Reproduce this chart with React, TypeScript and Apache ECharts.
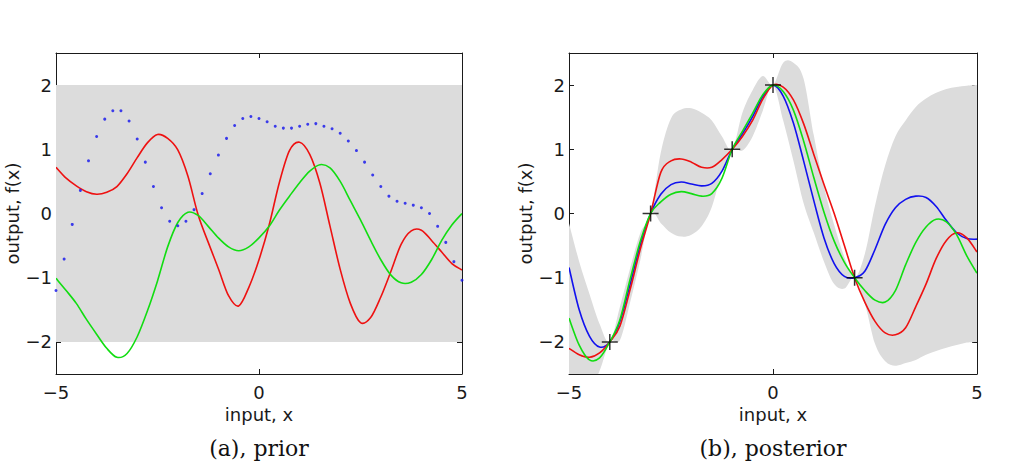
import { useEffect, useRef } from 'react';
import * as echarts from 'echarts';

// Input grid shared by the smooth sample curves
const sampleX = [
  -5, -4.75, -4.5, -4.25, -4, -3.75, -3.5, -3.25, -3, -2.75, -2.5, -2.25, -2, -1.75, -1.5, -1.25,
  -1, -0.75, -0.5, -0.25, 0, 0.25, 0.5, 0.75, 1, 1.25, 1.5, 1.75, 2, 2.25, 2.5, 2.75, 3, 3.25,
  3.5, 3.75, 4, 4.25, 4.5, 4.75, 5,
];

// (a) prior: two solid samples and one dotted sample, plus the ±2 band
const priorRed = [
  0.72, 0.55, 0.43, 0.34, 0.3, 0.33, 0.42, 0.62, 0.87, 1.1, 1.23, 1.17, 0.99, 0.58, -0.02, -0.45,
  -0.86, -1.28, -1.44, -1.15, -0.72, -0.18, 0.48, 0.98, 1.11, 0.92, 0.47, -0.2, -0.87, -1.4, -1.7,
  -1.62, -1.3, -0.9, -0.48, -0.27, -0.26, -0.42, -0.6, -0.78, -0.88,
];
const priorGreen = [
  -1.01, -1.2, -1.4, -1.65, -1.88, -2.1, -2.24, -2.18, -1.92, -1.52, -1.05, -0.52, -0.14, 0.02,
  -0.03, -0.2, -0.38, -0.52, -0.58, -0.52, -0.38, -0.2, 0.05, 0.27, 0.48, 0.66, 0.76, 0.71, 0.5,
  0.2, -0.1, -0.42, -0.72, -0.96, -1.08, -1.07, -0.95, -0.72, -0.42, -0.18, 0.0,
];
const dotX = [
  -5, -4.8, -4.6, -4.4, -4.2, -4, -3.8, -3.6, -3.4, -3.2, -3, -2.8, -2.6, -2.4, -2.2, -2, -1.8,
  -1.6, -1.4, -1.2, -1, -0.8, -0.6, -0.4, -0.2, 0, 0.2, 0.4, 0.6, 0.8, 1, 1.2, 1.4, 1.6, 1.8, 2,
  2.2, 2.4, 2.6, 2.8, 3, 3.2, 3.4, 3.6, 3.8, 4, 4.2, 4.4, 4.6, 4.8, 5,
];
const priorBlueDots = [
  -1.2, -0.71, -0.17, 0.36, 0.82, 1.2, 1.47, 1.6, 1.6, 1.44, 1.16, 0.8, 0.42, 0.09, -0.12, -0.19,
  -0.12, 0.06, 0.31, 0.62, 0.91, 1.17, 1.37, 1.48, 1.51, 1.48, 1.43, 1.36, 1.33, 1.33, 1.36, 1.39,
  1.4, 1.36, 1.32, 1.25, 1.13, 0.98, 0.8, 0.6, 0.42, 0.27, 0.19, 0.16, 0.13, 0.09, 0.0, -0.2,
  -0.45, -0.75, -1.04,
];
const priorBand = [-2, 2];

// (b) posterior: three samples, the ±2σ band and the training points
const postBlue = [
  -0.84, -1.5, -1.91, -2.08, -2.0, -1.68, -1.1, -0.48, 0.0, 0.3, 0.45, 0.49, 0.46, 0.43, 0.47,
  0.66, 1.0, 1.24, 1.51, 1.82, 2.0, 1.83, 1.41, 0.82, 0.2, -0.38, -0.78, -0.98, -1.0, -0.9, -0.56,
  -0.17, 0.09, 0.22, 0.27, 0.25, 0.11, -0.11, -0.3, -0.39, -0.4,
];
const postRed = [
  -2.1, -2.2, -2.24, -2.17, -2.0, -1.75, -1.18, -0.55, 0.0, 0.64, 0.82, 0.85, 0.8, 0.72, 0.72,
  0.84, 1.0, 1.2, 1.45, 1.78, 2.0, 1.97, 1.77, 1.4, 0.92, 0.45, 0.0, -0.5, -1.0, -1.38, -1.68,
  -1.86, -1.89, -1.78, -1.45, -1.1, -0.7, -0.42, -0.3, -0.38, -0.6,
];
const postGreen = [
  -1.63, -2.05, -2.28, -2.25, -2.0, -1.65, -1.02, -0.43, 0.0, 0.18, 0.3, 0.34, 0.31, 0.27, 0.31,
  0.55, 1.0, 1.28, 1.56, 1.85, 2.0, 1.9, 1.61, 1.13, 0.56, 0.02, -0.43, -0.76, -1.0, -1.2, -1.35,
  -1.38, -1.2, -0.8, -0.45, -0.21, -0.09, -0.13, -0.33, -0.66, -0.93,
];
const postUpper = [
  -0.15, -0.75, -1.25, -1.72, -2.0, -1.45, -0.85, -0.3, 0.0, 0.95, 1.48, 1.62, 1.64, 1.57, 1.45,
  1.2, 1.0, 1.57, 1.92, 2.14, 2.0, 2.35, 2.35, 2.1, 1.22, 0.42, -0.18, -0.68, -1.0, -0.63, 0.12,
  0.75, 1.2, 1.45, 1.66, 1.79, 1.88, 1.94, 1.97, 1.99, 2.0,
];
const postLower = [
  -3.1, -2.95, -2.75, -2.45, -2.0, -1.97, -1.38, -0.72, 0.0, -0.15, -0.3, -0.36, -0.33, -0.2, 0.1,
  0.65, 1.0, 0.98, 1.2, 1.6, 2.0, 1.45, 0.82, 0.16, -0.3, -0.75, -1.1, -1.17, -1.0, -1.4, -2.03,
  -2.3, -2.37, -2.33, -2.28, -2.2, -2.14, -2.09, -2.05, -2.01, -2.0,
];
const trainX = [-4, -3, -1, 0, 2];
const trainY = [-2, 0, 1, 2, -1];

const captions = ['(a), prior', '(b), posterior'];

const RED = '#ee1111';
const GREEN = '#11dd11';
const BLUE = '#1111ee';
const GRAY = '#dcdcdc';
const INK = '#1a1a1a';
const FONT = 'DejaVu Sans';

const PLUS = 'path://M7.25,0 H8.75 V7.25 H16 V8.75 H8.75 V16 H7.25 V8.75 H0 V7.25 H7.25 Z';

const pairs = (xs: number[], ys: number[]) => xs.map((x, i) => [x, ys[i]]);

// Catmull-Rom spline through screen points, emitted as cubic Bézier segments
function splinePath(pts: number[][], moveFirst: boolean) {
  let d = `${moveFirst ? 'M' : 'L'}${pts[0][0]},${pts[0][1]}`;
  for (let i = 0; i < pts.length - 1; i++) {
    const p0 = pts[i - 1] || pts[i];
    const p1 = pts[i];
    const p2 = pts[i + 1];
    const p3 = pts[i + 2] || p2;
    const c1x = p1[0] + (p2[0] - p0[0]) / 6;
    const c1y = p1[1] + (p2[1] - p0[1]) / 6;
    const c2x = p2[0] - (p3[0] - p1[0]) / 6;
    const c2y = p2[1] - (p3[1] - p1[1]) / 6;
    d += ` C${c1x},${c1y} ${c2x},${c2y} ${p2[0]},${p2[1]}`;
  }
  return d;
}

const gridClip = (cs: any) => ({
  type: 'rect',
  shape: { x: cs.x, y: cs.y, width: cs.width, height: cs.height },
});

export default function App() {
  const ref = useRef<HTMLDivElement>(null);

  useEffect(() => {
    const chart = echarts.init(ref.current!, null, { renderer: 'svg' });

    const tickFmt = (v: number) => (Number.isInteger(v) ? String(v).replace('-', '\u2212') : '');
    const grids = [
      { left: 56, top: 53, width: 406, height: 321 },
      { left: 569, top: 53, width: 408, height: 321 },
    ];
    const lineCommon = { show: true, onZero: false, lineStyle: { color: INK, width: 1 } };
    const tickCommon = { show: true, inside: true, length: 5, lineStyle: { color: INK, width: 1 } };
    const labelCommon = { fontFamily: FONT, fontSize: 18, color: INK };

    const xAxis: any[] = [];
    const yAxis: any[] = [];
    grids.forEach((_, gi) => {
      xAxis.push({
        gridIndex: gi, type: 'value', min: -5, max: 5, interval: 5, position: 'bottom',
        name: 'input, x', nameLocation: 'middle', nameGap: 30, nameTextStyle: labelCommon,
        axisLine: lineCommon, axisTick: tickCommon, splitLine: { show: false },
        axisLabel: { ...labelCommon, margin: 9, formatter: tickFmt },
      });
      xAxis.push({
        gridIndex: gi, type: 'value', min: -5, max: 5, interval: 5, position: 'top',
        axisLine: lineCommon, axisTick: tickCommon, splitLine: { show: false },
        axisLabel: { show: false },
      });
      yAxis.push({
        gridIndex: gi, type: 'value', min: -2.5, max: 2.5, splitNumber: 5, position: 'left',
        name: 'output, f(x)', nameLocation: 'middle', nameGap: 32, nameTextStyle: labelCommon,
        axisLine: lineCommon, axisTick: tickCommon, splitLine: { show: false },
        axisLabel: { ...labelCommon, margin: 4, formatter: tickFmt },
      });
      yAxis.push({
        gridIndex: gi, type: 'value', min: -2.5, max: 2.5, splitNumber: 5, position: 'right',
        axisLine: lineCommon, axisTick: tickCommon, splitLine: { show: false },
        axisLabel: { show: false },
      });
    });

    // A smooth sample path; the whole curve is drawn once, from the first data item
    const curve = (gi: number, name: string, color: string, xs: number[], ys: number[]) => {
      const data = pairs(xs, ys);
      return {
        type: 'custom', name, xAxisIndex: 2 * gi, yAxisIndex: 2 * gi, z: 3, silent: true,
        data,
        renderItem: (params: any, api: any) => {
          if (params.dataIndex !== 0) return null;
          const pts = data.map((p) => api.coord(p));
          return {
            type: 'path',
            shape: { pathData: splinePath(pts, true) },
            style: { fill: 'none', stroke: color, lineWidth: 1.6 },
            clipPath: gridClip(params.coordSys),
          };
        },
      };
    };

    chart.setOption({
      animation: false,
      grid: grids,
      xAxis,
      yAxis,
      series: [
        // prior ±2 band
        {
          type: 'line', xAxisIndex: 0, yAxisIndex: 0, data: [], z: 1,
          markArea: {
            silent: true,
            itemStyle: { color: GRAY },
            data: [[{ yAxis: priorBand[0] }, { yAxis: priorBand[1] }]],
          },
        },
        {
          type: 'scatter', name: 'prior sample 1', xAxisIndex: 0, yAxisIndex: 0,
          data: pairs(dotX, priorBlueDots),
          symbol: 'circle', symbolSize: 3, itemStyle: { color: BLUE }, z: 3,
        },
        curve(0, 'prior sample 2', RED, sampleX, priorRed),
        curve(0, 'prior sample 3', GREEN, sampleX, priorGreen),

        // posterior ±2σ band, outlined by its upper edge then its lower edge
        {
          type: 'custom', name: 'posterior band', xAxisIndex: 2, yAxisIndex: 2, z: 1, silent: true,
          data: pairs(sampleX, postUpper),
          renderItem: (params: any, api: any) => {
            if (params.dataIndex !== 0) return null;
            const up = sampleX.map((x, i) => api.coord([x, postUpper[i]]));
            const lo = sampleX.map((x, i) => api.coord([x, postLower[i]])).reverse();
            const d = splinePath(up, true) + ' ' + splinePath(lo, false) + ' Z';
            return {
              type: 'path',
              shape: { pathData: d },
              style: { fill: GRAY, stroke: 'none' },
              clipPath: gridClip(params.coordSys),
            };
          },
        },
        curve(1, 'posterior sample 1', BLUE, sampleX, postBlue),
        curve(1, 'posterior sample 2', RED, sampleX, postRed),
        curve(1, 'posterior sample 3', GREEN, sampleX, postGreen),
        {
          type: 'scatter', name: 'training data', xAxisIndex: 2, yAxisIndex: 2,
          data: pairs(trainX, trainY),
          symbol: PLUS, symbolSize: 16, itemStyle: { color: '#000' }, z: 5,
        },
      ],
      graphic: captions.map((text, i) => ({
        type: 'text',
        x: grids[i].left + grids[i].width / 2,
        y: 448,
        style: {
          text, fontFamily: 'DejaVu Serif', fontSize: 22, fill: '#111',
          textAlign: 'center', textVerticalAlign: 'middle',
        },
      })),
    });

    return () => chart.dispose();
  }, []);

  return (
    <div
      ref={ref}
      style={{ position: 'fixed', left: 0, top: 0, width: 1036, height: 467, background: '#fff' }}
    />
  );
}
